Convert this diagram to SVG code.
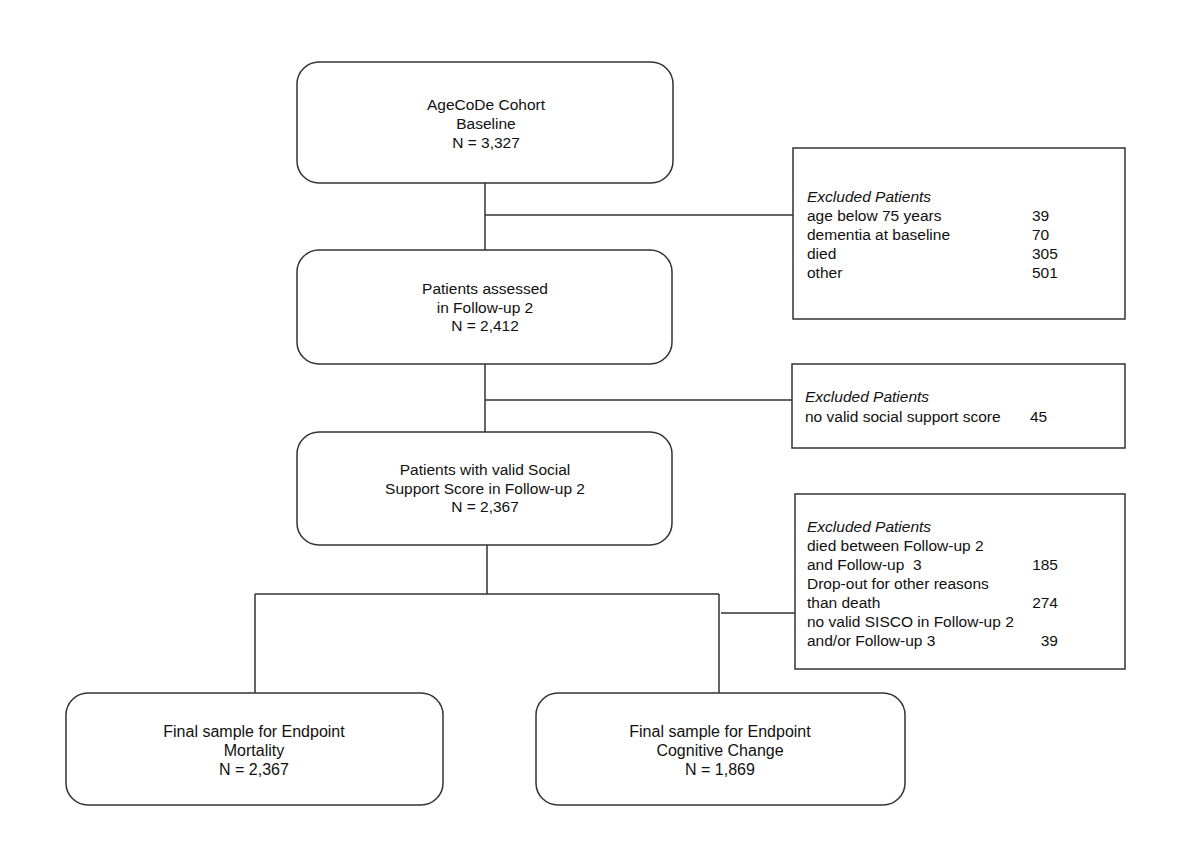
<svg xmlns="http://www.w3.org/2000/svg" width="1200" height="848" viewBox="0 0 1200 848">
<style>
.box{fill:#fff;stroke:#333;stroke-width:1.5}
.ln{fill:none;stroke:#333;stroke-width:1.5}
text{font-family:"Liberation Sans",Arial,sans-serif;font-size:15.5px;fill:#111}
.c{text-anchor:middle}
.i{font-style:italic}
.e{text-anchor:end}
.n{font-size:16px}
.p{white-space:pre}
</style>
<rect width="1200" height="848" fill="#fff"/>
<g id="connectors">
<path class="ln" d="M485,183 V250 M485,215 H793"/>
<path class="ln" d="M485,364 V432 M485,400 H792"/>
<path class="ln" d="M487,545 V594 M255,594 H719 M255,594 V693 M719,594 V693 M721,613 H795"/>
</g>
<g id="baseline">
<rect class="box" x="297" y="62" width="376" height="121" rx="22"/>
<text class="c" x="486" y="110">AgeCoDe Cohort</text>
<text class="c" x="486" y="129">Baseline</text>
<text class="c" x="486" y="148">N = 3,327</text>
</g>
<g id="excl1">
<rect class="box" x="793" y="148" width="332" height="171"/>
<text class="i" x="807" y="202">Excluded Patients</text>
<text x="807" y="221">age below 75 years</text>
<text x="1032" y="221">39</text>
<text x="807" y="240">dementia at baseline</text>
<text x="1032" y="240">70</text>
<text x="807" y="259">died</text>
<text x="1032" y="259">305</text>
<text x="807" y="278">other</text>
<text x="1032" y="278">501</text>
</g>
<g id="fu2">
<rect class="box" x="297" y="250" width="375" height="114" rx="22"/>
<text class="c" x="485" y="294">Patients assessed</text>
<text class="c" x="485" y="313">in Follow-up 2</text>
<text class="c" x="485" y="331">N = 2,412</text>
</g>
<g id="excl2">
<rect class="box" x="792" y="364" width="333" height="84"/>
<text class="i" x="805" y="402">Excluded Patients</text>
<text x="805" y="422">no valid social support score</text>
<text x="1030" y="422">45</text>
</g>
<g id="valid">
<rect class="box" x="297" y="432" width="375" height="113" rx="22"/>
<text class="c" x="485" y="475">Patients with valid Social</text>
<text class="c" x="485" y="494">Support Score in Follow-up 2</text>
<text class="c" x="485" y="512">N = 2,367</text>
</g>
<g id="excl3">
<rect class="box" x="795" y="494" width="330" height="175"/>
<text class="i" x="807" y="532">Excluded Patients</text>
<text x="807" y="551">died between Follow-up 2</text>
<text class="p" x="807" y="570">and Follow-up  3</text>
<text class="e" x="1058" y="570">185</text>
<text x="807" y="589">Drop-out for other reasons</text>
<text x="807" y="608">than death</text>
<text class="e" x="1058" y="608">274</text>
<text x="807" y="627">no valid SISCO in Follow-up 2</text>
<text x="807" y="646">and/or Follow-up 3</text>
<text class="e" x="1058" y="646">39</text>
</g>
<g id="mortality">
<rect class="box" x="66" y="693" width="377" height="112" rx="22"/>
<text class="c n" x="254" y="737">Final sample for Endpoint</text>
<text class="c n" x="254" y="756">Mortality</text>
<text class="c n" x="254" y="775">N = 2,367</text>
</g>
<g id="cognitive">
<rect class="box" x="536" y="693" width="369" height="112" rx="22"/>
<text class="c n" x="720" y="737">Final sample for Endpoint</text>
<text class="c n" x="720" y="756">Cognitive Change</text>
<text class="c n" x="720" y="775">N = 1,869</text>
</g>
</svg>
